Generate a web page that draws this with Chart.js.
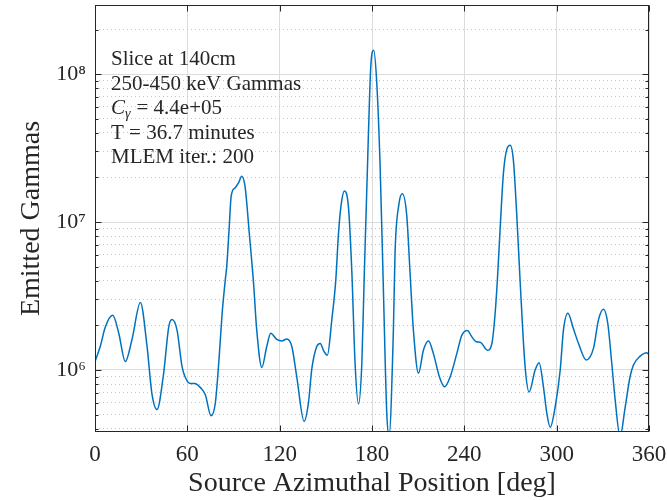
<!DOCTYPE html>
<html><head><meta charset="utf-8">
<script src="https://cdn.jsdelivr.net/npm/chart.js@4.4.1/dist/chart.umd.min.js"></script>
<style>html,body{margin:0;padding:0;background:#fff}#wrap{width:667px;height:500px}</style>
</head><body><div id="wrap"><canvas id="c" width="667" height="500"></canvas></div>
<script>
const azimuthDeg = [0,3.4,6.7,11.5,15.4,19.7,24,29.5,33.8,37,40.3,44.6,47.9,50,53.3,56.6,58.7,62,64.8,68.5,71.7,75.4,78.2,80.4,82.6,84.7,85.6,87.1,88.5,91,93.5,95.3,97.5,100.3,103,105.1,108.4,111.6,114.2,118.1,121.4,124.6,127.9,131.1,135.9,138.7,140.9,144.1,146.3,148.9,151,153.9,156.5,158.2,160,162.1,164.7,166.9,169,171.2,173.4,174.9,177.7,179.2,181.1,183.1,185.3,187.4,189.6,191.1,193.9,195,197.5,199.7,202.6,204.7,206.9,210.2,213.4,216.7,219.9,223.8,227.1,230.8,235.1,238.4,242,244.8,247.7,250.3,255,257.9,260,261.5,263.5,265.4,267.6,269.8,271.9,274.1,276.3,279.5,282.1,286,288.6,291.4,293.6,295.8,299,302.3,304.4,307.3,310.9,314.2,319.2,323.9,327.2,330.4,333.2,335.8,338,341.2,344.5,347.7,349.9,354.3,358.6,360];
const emittedGammas = [1.14e6,1.44e6,1.95e6,2.34e6,1.78e6,1.14e6,1.60e6,2.86e6,1.45e6,6.9e5,5.4e5,9.5e5,1.95e6,2.19e6,1.86e6,1.05e6,8.9e5,8.1e5,8.1e5,7.6e5,6.8e5,4.9e5,6.0e5,1.11e6,2.4e6,4.1e6,5.0e6,8.8e6,1.5e7,1.7e7,1.86e7,2.04e7,1.74e7,8.3e6,3.9e6,1.86e6,1.04e6,1.44e6,1.77e6,1.61e6,1.57e6,1.62e6,1.44e6,9.0e5,4.5e5,6.0e5,1.02e6,1.44e6,1.51e6,1.33e6,1.26e6,2.19e6,4.1e6,8.3e6,1.32e7,1.62e7,1.26e7,4.6e6,1.11e6,5.9e5,1.11e6,4.1e6,4.0e7,1.12e8,1.45e8,8.7e7,2.34e7,3.5e6,5.1e5,3.6e5,1.86e6,6.3e6,1.32e7,1.55e7,1.1e7,4.6e6,1.86e6,9.5e5,1.36e6,1.57e6,1.29e6,9.0e5,7.7e5,9.0e5,1.29e6,1.72e6,1.85e6,1.68e6,1.55e6,1.54e6,1.36e6,1.51e6,2.4e6,4.1e6,1.0e7,2.14e7,3.1e7,3.3e7,2.6e7,1.1e7,3.9e6,1.05e6,7.1e5,1.0e6,1.12e6,7.7e5,5.1e5,4.1e5,5.6e5,1.0e6,1.86e6,2.42e6,1.9e6,1.51e6,1.17e6,1.4e6,2.19e6,2.57e6,2.07e6,1.11e6,6.3e5,3.55e5,5.6e5,9.0e5,1.08e6,1.24e6,1.31e6,1.26e6];
const xTickValues = [0,60,120,180,240,300,360];
const yDecades = [1e6,1e7,1e8];
const yDecadeLabels = ['10\u2076','10\u2077','10\u2078'];
const xTitle = 'Source Azimuthal Position [deg]';
const yTitle = 'Emitted Gammas';
const infoLines = ['Slice at 140cm','250-450 keV Gammas','', 'T = 36.7 minutes','MLEM iter.: 200'];
const cGammaValue = '4.4e+05';
const xMin = 0, xMax = 360, yMin = 3.81e5, yMax = 2.93e8;

const FONT = "'Liberation Serif', 'Times New Roman', serif";
const TXT = '#262626';
const isDecade = v => yDecades.indexOf(v) >= 0;

const boxPlugin = {
  id: 'box',
  afterDatasetsDraw(chart) {
    const {ctx, chartArea: a, scales} = chart;
    const L = Math.round(a.left)+0.5, R = Math.round(a.right)-0.5, T = Math.round(a.top)+0.5, B = Math.round(a.bottom)-0.5;
    ctx.save();
    ctx.strokeStyle = TXT; ctx.lineWidth = 1;
    ctx.beginPath();
    scales.y.ticks.forEach(t => {
      const y = Math.round(scales.y.getPixelForValue(t.value)) + 0.5;
      const len = isDecade(t.value) ? 6 : 3;
      ctx.moveTo(L, y); ctx.lineTo(L+len, y);
      ctx.moveTo(R, y); ctx.lineTo(R-len, y);
    });
    scales.x.ticks.forEach(t => {
      const x = Math.round(scales.x.getPixelForValue(t.value)) + 0.5;
      ctx.moveTo(x, B); ctx.lineTo(x, B-6);
      ctx.moveTo(x, T); ctx.lineTo(x, T+6);
    });
    ctx.stroke();
    ctx.strokeRect(L, T, R-L, B-T);
    ctx.fillStyle = TXT;
    ctx.textBaseline = 'alphabetic';
    ctx.textAlign = 'left';
    const x0 = a.left + 16;
    const base = [60, 84.5, 109, 133.5, 158];
    infoLines.forEach((s, i) => {
      const y = a.top + base[i];
      if (i === 2) {
        ctx.font = 'italic 21px ' + FONT;
        ctx.fillText('C', x0, y);
        let x = x0 + ctx.measureText('C').width;
        ctx.font = 'italic 14px ' + FONT;
        ctx.fillText('\u03b3', x, y + 4);
        x += ctx.measureText('\u03b3').width + 6;
        ctx.font = '21px ' + FONT;
        ctx.fillText('= ' + cGammaValue, x, y);
      } else {
        ctx.font = '21px ' + FONT;
        ctx.fillText(s, x0, y);
      }
    });
    ctx.restore();
  }
};

new Chart(document.getElementById('c'), {
  type: 'line',
  data: {
    datasets: [{
      data: azimuthDeg.map((x, i) => ({x, y: emittedGammas[i]})),
      borderColor: '#0072BD',
      borderWidth: 1.5,
      pointRadius: 0,
      fill: false,
      cubicInterpolationMode: 'monotone'
    }]
  },
  options: {
    responsive: false,
    animation: false,
    layout: {padding: {top: 5, right: 18, left: 0, bottom: 0}},
    plugins: {legend: {display: false}, tooltip: {enabled: false}},
    scales: {
      x: {
        type: 'linear', min: xMin, max: xMax,
        afterFit: s => { s.height = 68; s.paddingLeft = 0; s.paddingRight = 0; },
        afterBuildTicks: s => { s.ticks = xTickValues.map(v => ({value: v})); },
        ticks: {autoSkip: false, padding: 9, color: TXT, font: {family: FONT, size: 23}, maxRotation: 0},
        grid: {color: '#dcdcdc', lineWidth: 1, drawTicks: false},
        border: {display: false},
        title: {display: true, text: xTitle, color: TXT, font: {family: FONT, size: 28}, padding: {top: 0, bottom: 0}}
      },
      y: {
        type: 'logarithmic', min: yMin, max: yMax,
        afterFit: s => { s.width = 95; s.paddingTop = 0; s.paddingBottom = 0; },
        afterBuildTicks: s => {
          const t = [];
          for (let e = 5; e <= 8; e++) for (let m = 1; m <= 9; m++) {
            const v = m * Math.pow(10, e);
            if (v >= yMin && v <= yMax) t.push({value: v});
          }
          s.ticks = t;
        },
        ticks: {
          autoSkip: false, padding: 9, color: TXT, font: {family: FONT, size: 22},
          callback: v => { const k = yDecades.indexOf(v); return k >= 0 ? yDecadeLabels[k] : ''; }
        },
        grid: {
          drawTicks: false, lineWidth: 1,
          color: ctx => (ctx.tick && isDecade(ctx.tick.value)) ? '#dcdcdc' : '#c4c4c4'
        },
        border: {display: false, dash: ctx => (ctx.tick && !isDecade(ctx.tick.value)) ? [1, 3] : []},
        title: {display: true, text: yTitle, color: TXT, font: {family: FONT, size: 28}, padding: {top: 15, bottom: 0}}
      }
    }
  },
  plugins: [boxPlugin]
});
</script></body></html>
